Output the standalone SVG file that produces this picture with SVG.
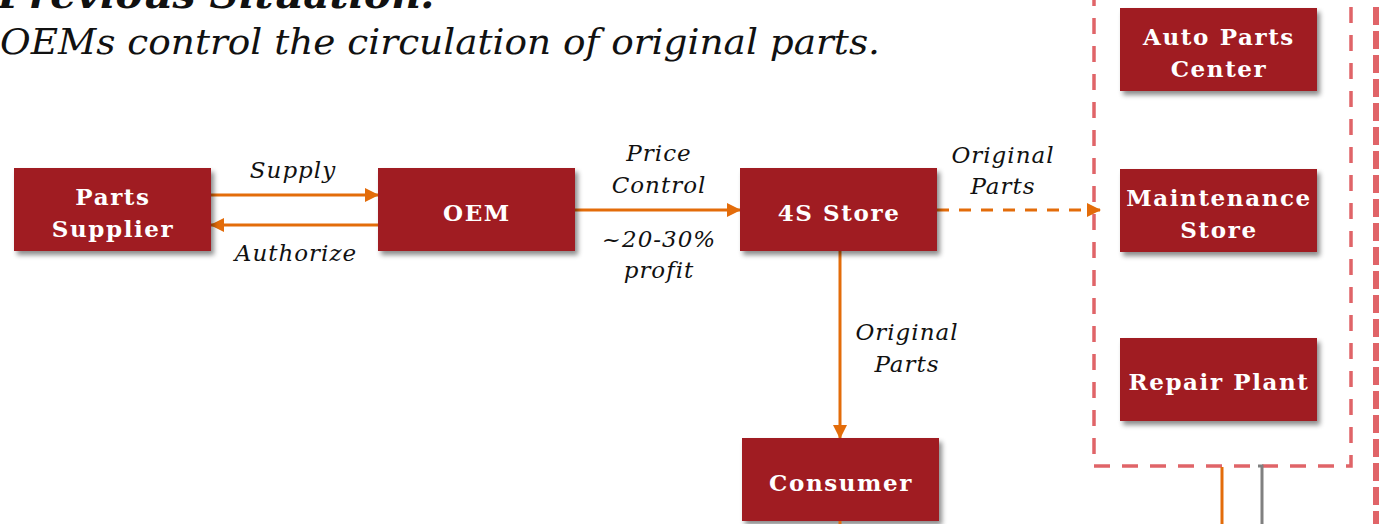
<svg xmlns="http://www.w3.org/2000/svg" width="1379" height="524" viewBox="0 0 1379 524">
  <defs>
    <filter id="shadow" x="-10%" y="-10%" width="130%" height="140%">
      <feDropShadow dx="3" dy="4" stdDeviation="2.5" flood-color="#000" flood-opacity="0.45"/>
    </filter>
    <marker id="arrow" viewBox="0 0 14 14" refX="13" refY="7" markerWidth="14" markerHeight="14" markerUnits="userSpaceOnUse" orient="auto">
      <path d="M0,0 L14,7 L0,14 Z" fill="#E36C0A"/>
    </marker>
    <style>
      .box { fill: #A01F22; filter: url(#shadow); }
      .btxt { font-family: "DejaVu Serif", "Liberation Serif", serif; font-weight: bold; font-size: 23px; fill: #ffffff; text-anchor: middle; letter-spacing: 1.6px; }
      .lbl { font-family: "DejaVu Serif", "Liberation Serif", serif; font-style: italic; font-size: 23px; fill: #111111; text-anchor: middle; letter-spacing: 1px; }
      .title { font-family: "DejaVu Serif", "Liberation Serif", serif; font-style: italic; fill: #111111; }
      .flow { stroke: #E36C0A; stroke-width: 3; fill: none; }
      .dash { stroke-dasharray: 12 10; }
      .frame { stroke: #E06468; fill: none; }
    </style>
  </defs>

  <!-- heading -->
  <text class="title" x="-2" y="8" font-size="40" font-weight="bold" textLength="438" lengthAdjust="spacingAndGlyphs">Previous Situation:</text>
  <text class="title" x="0" y="54" font-size="36" textLength="880" lengthAdjust="spacingAndGlyphs">OEMs control the circulation of original parts.</text>

  <!-- independent aftermarket frame -->
  <g id="aftermarket-frame">
    <path class="frame" d="M1094,-10 L1094,466 L1351,466 L1351,-10" stroke-width="3.5" stroke-dasharray="16 12"/>
    <line class="frame" x1="1376" y1="7" x2="1376" y2="524" stroke-width="6" stroke-dasharray="18 6"/>
  </g>

  <!-- connectors -->
  <g id="connectors">
    <line class="flow" x1="211" y1="195" x2="378" y2="195" marker-end="url(#arrow)"/>
    <line class="flow" x1="378" y1="225" x2="211" y2="225" marker-end="url(#arrow)"/>
    <line class="flow" x1="575" y1="210" x2="740" y2="210" marker-end="url(#arrow)"/>
    <line class="flow dash" x1="937" y1="210" x2="1100" y2="210" marker-end="url(#arrow)"/>
    <line class="flow" x1="840" y1="251" x2="840" y2="438" marker-end="url(#arrow)"/>
    <line class="flow" x1="1222" y1="467" x2="1222" y2="524"/>
    <path d="M1258,466 L1262,466 L1262,524" stroke="#808080" stroke-width="3" fill="none"/>
  </g>

  <!-- connector labels -->
  <g id="labels">
    <text class="lbl" x="293" y="178">Supply</text>
    <text class="lbl" x="296" y="261">Authorize</text>
    <text class="lbl" x="659" y="161">Price</text>
    <text class="lbl" x="659" y="193">Control</text>
    <text class="lbl" x="659" y="247">~20-30%</text>
    <text class="lbl" x="659" y="278">profit</text>
    <text class="lbl" x="1003" y="163">Original</text>
    <text class="lbl" x="1003" y="194">Parts</text>
    <text class="lbl" x="907" y="340">Original</text>
    <text class="lbl" x="907" y="372">Parts</text>
  </g>

  <!-- nodes -->
  <g id="parts-supplier">
    <rect class="box" x="14" y="168" width="197" height="83"/>
    <text class="btxt" x="113" y="205">Parts</text>
    <text class="btxt" x="113" y="237">Supplier</text>
  </g>
  <g id="oem">
    <rect class="box" x="378" y="168" width="197" height="83"/>
    <text class="btxt" x="477" y="221">OEM</text>
  </g>
  <g id="4s-store">
    <rect class="box" x="740" y="168" width="197" height="83"/>
    <text class="btxt" x="839" y="221">4S Store</text>
  </g>
  <g id="consumer">
    <rect class="box" x="742" y="438" width="197" height="83"/>
    <text class="btxt" x="841" y="491">Consumer</text>
    <line class="flow" x1="840" y1="521" x2="840" y2="524"/>
  </g>
  <g id="auto-parts-center">
    <rect class="box" x="1120" y="8" width="197" height="83"/>
    <text class="btxt" x="1219" y="45">Auto Parts</text>
    <text class="btxt" x="1219" y="77">Center</text>
  </g>
  <g id="maintenance-store">
    <rect class="box" x="1120" y="169" width="197" height="83"/>
    <text class="btxt" x="1219" y="206">Maintenance</text>
    <text class="btxt" x="1219" y="238">Store</text>
  </g>
  <g id="repair-plant">
    <rect class="box" x="1120" y="338" width="197" height="83"/>
    <text class="btxt" x="1219" y="390">Repair Plant</text>
  </g>
</svg>
